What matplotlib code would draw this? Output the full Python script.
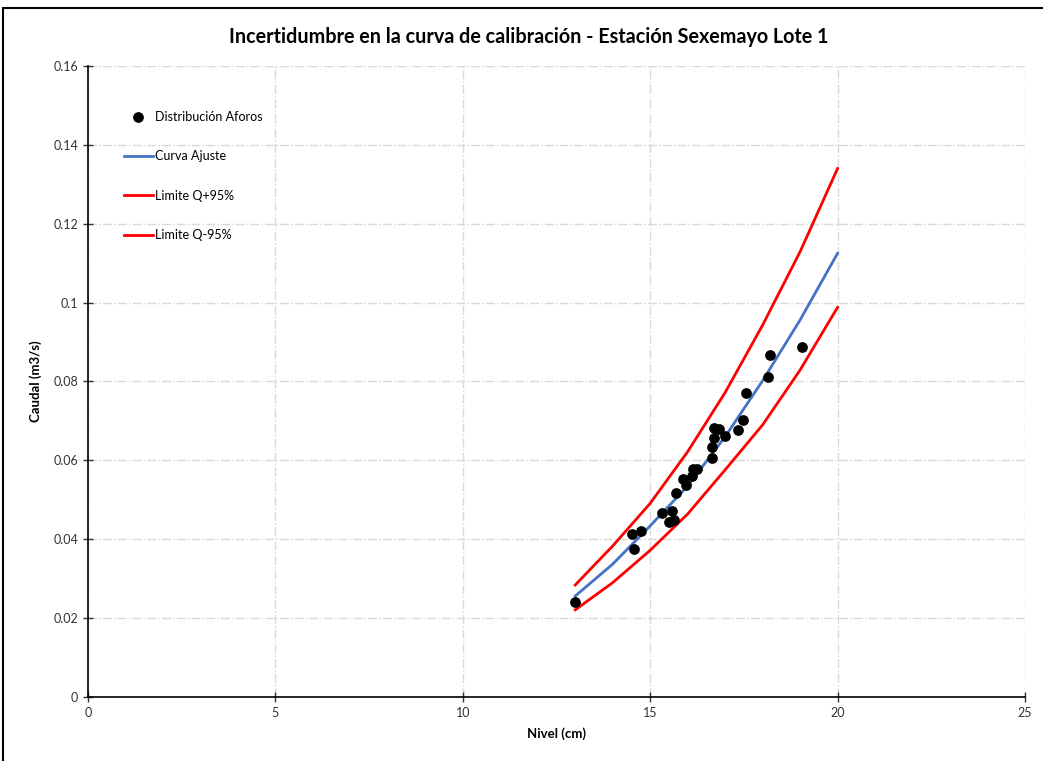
import matplotlib.pyplot as plt
from matplotlib.patches import Rectangle

plt.rcParams['font.family'] = ['Lato', 'DejaVu Sans']

# aforos (nivel cm, caudal m3/s)
nivel_aforo = [13.0, 14.51, 14.57, 14.75, 15.31, 15.59, 15.51, 15.63, 15.69, 15.95, 15.88,
               16.11, 16.15, 16.26, 16.65, 16.65, 16.70, 16.70, 16.84, 17.0, 17.33, 17.48,
               17.55, 18.14, 18.20, 19.06]
caudal_aforo = [0.0242, 0.0413, 0.0375, 0.0422, 0.0467, 0.0472, 0.0443, 0.0450, 0.0518, 0.0537,
                0.0554, 0.0561, 0.0577, 0.0577, 0.0607, 0.0635, 0.0656, 0.0683, 0.0679, 0.0663,
                0.0677, 0.0702, 0.0772, 0.0811, 0.0867, 0.0888]

# curvas
nivel = [13, 14, 15, 16, 17, 18, 19, 20]
q_ajuste = [0.0256, 0.0337, 0.0434, 0.0535, 0.0660, 0.0802, 0.0956, 0.1125]
q_sup = [0.0284, 0.0383, 0.0491, 0.0622, 0.0772, 0.0943, 0.1129, 0.1340]
q_inf = [0.0221, 0.0290, 0.0372, 0.0464, 0.0576, 0.0690, 0.0829, 0.0988]

fig = plt.figure(figsize=(10.43, 7.61), dpi=100)
ax = fig.add_axes([0.0844, 0.0841, 0.8983, 0.8292])

ax.scatter(nivel_aforo, caudal_aforo, s=45, color='black', zorder=5, label='Distribución Aforos')
ax.plot(nivel, q_ajuste, color='#4472c4', lw=2.0, label='Curva Ajuste', zorder=4)
ax.plot(nivel, q_sup, color='#ff0000', lw=2.0, label='Limite Q+95%', zorder=3)
ax.plot(nivel, q_inf, color='#ff0000', lw=2.0, label='Limite Q-95%', zorder=3)

ax.set_xlim(0, 25)
ax.set_ylim(0, 0.16)
ax.set_xticks([0, 5, 10, 15, 20, 25])
ax.set_yticks([0, 0.02, 0.04, 0.06, 0.08, 0.1, 0.12, 0.14, 0.16])
ax.set_yticklabels(['0', '0.02', '0.04', '0.06', '0.08', '0.1', '0.12', '0.14', '0.16'])
ax.tick_params(direction='inout', length=7, width=1, labelsize=9, colors='#333333')
ax.grid(True, color='#d9d9d9', linestyle='-.', linewidth=1)
ax.set_axisbelow(True)
for s in ['top', 'right']:
    ax.spines[s].set_visible(False)
for s in ['left', 'bottom']:
    ax.spines[s].set_color('black')
    ax.spines[s].set_linewidth(1.2)

ax.set_xlabel('Nivel (cm)', fontsize=9.5, fontweight='bold', labelpad=6)
ax.set_ylabel('Caudal (m3/s)', fontsize=9.5, fontweight='bold', labelpad=8)
fig.text(0.507, 0.951, 'Incertidumbre en la curva de calibración - Estación Sexemayo Lote 1',
         ha='center', va='center', fontsize=14.2, fontweight='bold')

ax.legend(loc='upper left', bbox_to_anchor=(0.033, 0.937), frameon=False, fontsize=9,
          labelspacing=2.2, handlelength=2.3, handletextpad=0.2, borderaxespad=0)

fig.patches.append(Rectangle((0.003, -0.02), 1.1, 1.0 - 8 / 761 + 0.02, transform=fig.transFigure,
                             fill=False, edgecolor='black', lw=1.5))

fig.savefig('out.png', dpi=100)
